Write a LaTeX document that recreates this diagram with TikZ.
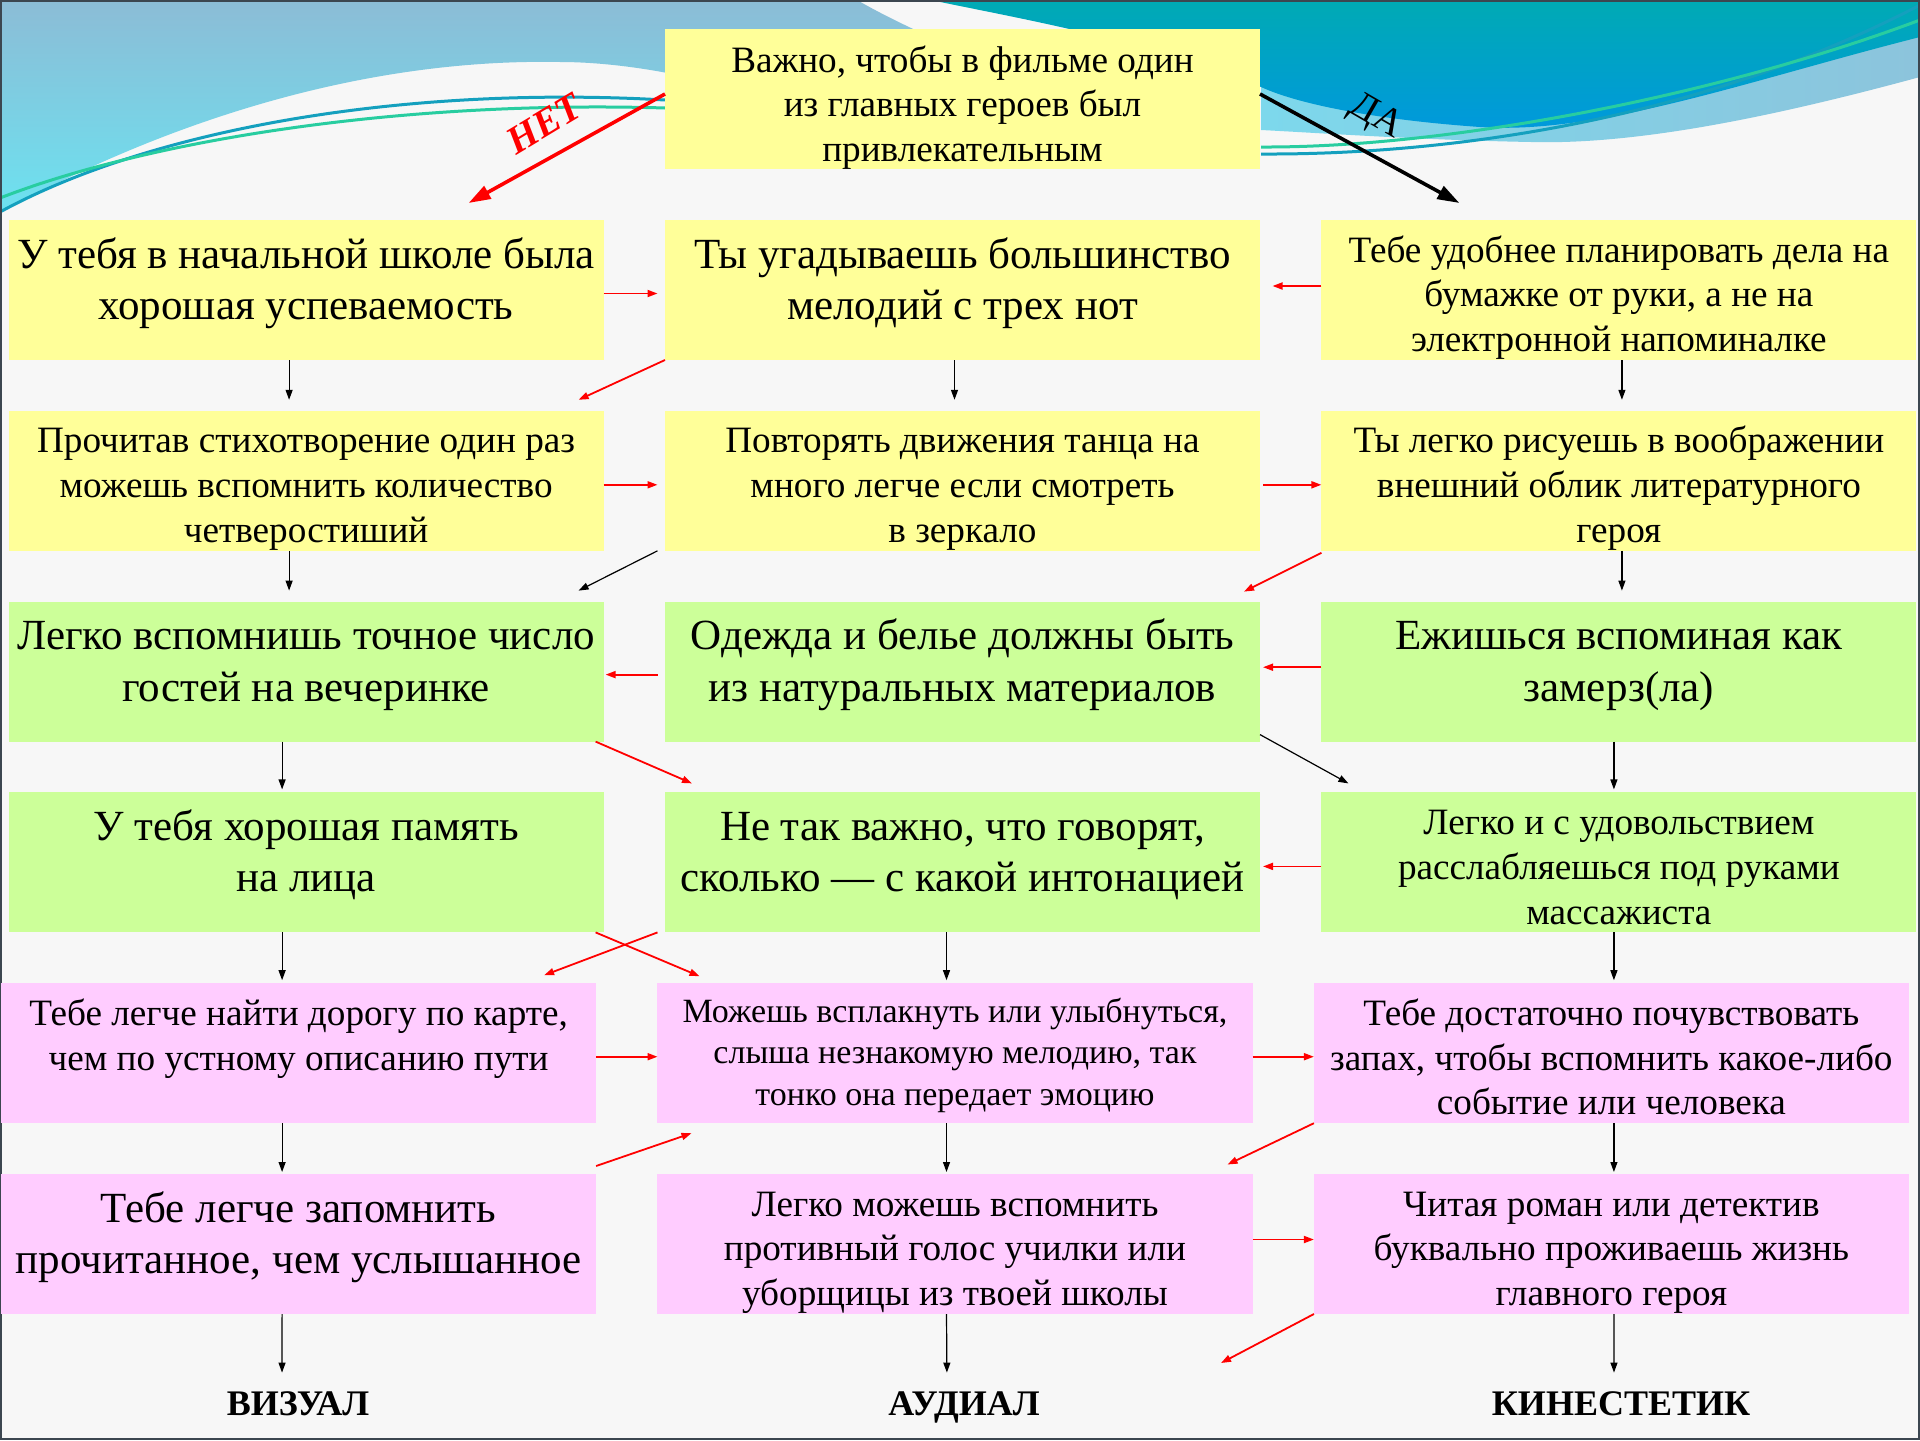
\documentclass[tikz,border=0pt]{standalone}
\usepackage{fontspec}
\setmainfont{Liberation Serif}
\usetikzlibrary{matrix,positioning,backgrounds,arrows.meta}

\definecolor{qyellow}{RGB}{255,255,153}
\definecolor{qgreen}{RGB}{204,255,153}
\definecolor{qpink}{RGB}{255,204,255}
\definecolor{skytop}{RGB}{140,188,214}
\definecolor{skylow}{RGB}{108,226,240}
\definecolor{waveteal}{RGB}{0,170,180}
\definecolor{waveblue}{RGB}{0,152,222}
\definecolor{bandleft}{RGB}{125,216,236}
\definecolor{bandright}{RGB}{140,196,220}
\definecolor{lineteal}{RGB}{20,160,190}
\definecolor{linegreen}{RGB}{40,205,160}
\definecolor{pagegray}{RGB}{247,247,247}
\definecolor{framegray}{RGB}{60,70,80}

\newcommand\bigsize{\fontsize{21.5}{25.7}\selectfont}
\newcommand\midsize{\fontsize{18.6}{22.4}\selectfont}
\newcommand\smallsize{\fontsize{17}{20.8}\selectfont}
\newcommand\txt[1]{\begin{tabular}[t]{@{}c@{}}#1\end{tabular}}

\begin{document}
\begin{tikzpicture}[x=0.5pt, y=-0.5pt, >={Triangle[length=5pt,width=3.5pt]},
box/.style={minimum width=297.5pt, minimum height=70pt, inner xsep=2pt, inner ysep=0pt, outer sep=0pt, anchor=center},
big/.style={font=\bigsize, text height=24pt, text depth=46pt},
mid/.style={font=\midsize, text height=21pt, text depth=49pt},
small/.style={font=\smallsize, text height=19.5pt, text depth=50.5pt},
link/.style={->, line width=0.6pt},
redlink/.style={->, red, line width=0.9pt},
answerno/.style={-{Triangle[length=11pt,width=7pt]}, red, line width=1.8pt},
answeryes/.style={-{Triangle[length=11pt,width=7pt]}, black, line width=1.8pt},
kind/.style={font=\fontsize{18}{22}\selectfont\bfseries, inner sep=1pt, text height=13pt, text depth=4pt}]

\useasboundingbox (0,0) rectangle (1920,1440);

\matrix (quiz) [matrix of nodes, anchor=north east, inner sep=0pt, outer sep=0pt,
  nodes={box, mid},
  row sep={95.4pt,between origins}, column sep={328.2pt,between origins},
  row 1/.style={nodes={fill=qyellow}}, row 2/.style={nodes={fill=qyellow}},
  row 3/.style={nodes={fill=qgreen}}, row 4/.style={nodes={fill=qgreen}},
  row 5/.style={nodes={fill=qpink, xshift=-3.75pt}},
  row 6/.style={nodes={fill=qpink, xshift=-3.75pt}}] at (1916.4,220) {
|[big]| \txt{У тебя в начальной школе была\\хорошая успеваемость} &
|[big]| \txt{Ты угадываешь большинство\\мелодий с трех нот} &
\txt{Тебе удобнее планировать дела на\\бумажке от руки, а не на\\электронной напоминалке} \\
\txt{Прочитав стихотворение один раз\\можешь вспомнить количество\\четверостиший} &
\txt{Повторять движения танца на\\много легче если смотреть\\в зеркало} &
\txt{Ты легко рисуешь в воображении\\внешний облик литературного\\героя} \\
|[big]| \txt{Легко вспомнишь точное число\\гостей на вечеринке} &
|[big]| \txt{Одежда и белье должны быть\\из натуральных материалов} &
|[big]| \txt{Ежишься вспоминая как\\замерз(ла)} \\
|[big]| \txt{У тебя хорошая память\\на лица} &
|[big]| \txt{Не так важно, что говорят,\\сколько — с какой интонацией} &
\txt{Легко и с удовольствием\\расслабляешься под руками\\массажиста} \\
\txt{Тебе легче найти дорогу по карте,\\чем по устному описанию пути} &
|[small]| \txt{Можешь всплакнуть или улыбнуться,\\слыша незнакомую мелодию, так\\тонко она передает эмоцию} &
\txt{Тебе достаточно почувствовать\\запах, чтобы вспомнить какое-либо\\событие или человека} \\
|[big]| \txt{Тебе легче запомнить\\прочитанное, чем услышанное} &
\txt{Легко можешь вспомнить\\противный голос училки или\\уборщицы из твоей школы} &
\txt{Читая роман или детектив\\буквально проживаешь жизнь\\главного героя} \\};

\node[box, mid, fill=qyellow, text height=21.5pt, text depth=48.5pt, above=25.5pt of quiz-1-2] (start) {\txt{Важно, чтобы в фильме один\\из главных героев был\\привлекательным}};

\node[kind] (visual) at (298,1406) {ВИЗУАЛ};
\node[kind] (audial) at (964,1406) {АУДИАЛ};
\node[kind] (kinest) at (1621,1406) {КИНЕСТЕТИК};
\coordinate (loose) at (1221,1363);

% first question
\draw[answerno] ([yshift=2.5pt]start.west) -- ([xshift=-67.5pt,yshift=8.5pt]quiz-1-1.north east)
    node[midway, xshift=-11.5pt, yshift=12.5pt, rotate=31, font=\fontsize{19.5}{20}\selectfont\bfseries\itshape] {НЕТ};
\draw[answeryes] ([yshift=2.5pt]start.east) -- ([xshift=69pt,yshift=8.5pt]quiz-1-3.north west)
    node[midway, xshift=8pt, yshift=15.5pt, rotate=-30, font=\fontsize{19.5}{20}\selectfont] {ДА};

% straight down
\draw[link, shorten >=5.5pt] ([xshift=-8.5pt]quiz-1-1.south) -- ([xshift=-8.5pt]quiz-2-1.north);
\draw[link, shorten >=5.5pt] ([xshift=-8.5pt]quiz-2-1.south) -- ([xshift=-8.5pt]quiz-3-1.north);
\draw[link, shorten >=1.5pt] ([xshift=-12pt]quiz-3-1.south) -- ([xshift=-12pt]quiz-4-1.north);
\draw[link, shorten >=1.5pt] ([xshift=-12pt]quiz-4-1.south) -- ([xshift=-8.25pt]quiz-5-1.north);
\draw[link, shorten >=1pt] ([xshift=-8.25pt]quiz-5-1.south) -- ([xshift=-8.25pt]quiz-6-1.north);
\draw[link, shorten >=7pt] ([xshift=-8.25pt]quiz-6-1.south) -- ([xshift=-8pt]visual.north);
\draw[link, shorten >=5.5pt] ([xshift=-4pt]quiz-1-2.south) -- ([xshift=-4pt]quiz-2-2.north);
\draw[link, shorten >=1.5pt] ([xshift=-8pt]quiz-4-2.south) -- ([xshift=-4.25pt]quiz-5-2.north);
\draw[link, shorten >=1pt] ([xshift=-4.25pt]quiz-5-2.south) -- ([xshift=-4.25pt]quiz-6-2.north);
\draw[link, shorten >=7pt] ([xshift=-4.25pt]quiz-6-2.south) -- ([xshift=-8.5pt]audial.north);
\draw[link, shorten >=5.5pt] ([xshift=1.5pt]quiz-1-3.south) -- ([xshift=1.5pt]quiz-2-3.north);
\draw[link, shorten >=5.5pt] ([xshift=1.5pt]quiz-2-3.south) -- ([xshift=1.5pt]quiz-3-3.north);
\draw[link, shorten >=1.5pt] ([xshift=-2.5pt]quiz-3-3.south) -- ([xshift=-2.5pt]quiz-4-3.north);
\draw[link, shorten >=1.5pt] ([xshift=-2.5pt]quiz-4-3.south) -- ([xshift=1.25pt]quiz-5-3.north);
\draw[link, shorten >=1pt] ([xshift=1.25pt]quiz-5-3.south) -- ([xshift=1.25pt]quiz-6-3.north);
\draw[link, shorten >=7pt] ([xshift=1.25pt]quiz-6-3.south) -- ([xshift=-3.5pt]kinest.north);

% sideways
\draw[redlink, shorten >=3.75pt] ([yshift=-1.75pt]quiz-1-1.east) -- ([yshift=-1.75pt]quiz-1-2.west);
\draw[redlink, shorten >=6.25pt] ([yshift=2pt]quiz-1-3.west) -- ([yshift=2pt]quiz-1-2.east);
\draw[redlink, shorten >=3.75pt] ([yshift=-2pt]quiz-2-1.east) -- ([yshift=-2pt]quiz-2-2.west);
\draw[redlink, shorten <=1.5pt] ([yshift=-2pt]quiz-2-2.east) -- ([yshift=-2pt]quiz-2-3.west);
\draw[redlink, shorten <=3.75pt, shorten >=1pt] ([yshift=-1.5pt]quiz-3-2.west) -- ([yshift=-1.5pt]quiz-3-1.east);
\draw[redlink, shorten >=1.5pt] ([yshift=2.2pt]quiz-3-3.west) -- ([yshift=2.2pt]quiz-3-2.east);
\draw[redlink, shorten >=1.5pt] ([yshift=-2pt]quiz-4-3.west) -- ([yshift=-2pt]quiz-4-2.east);
\draw[redlink] ([yshift=-1.75pt]quiz-5-1.east) -- ([yshift=-1.75pt]quiz-5-2.west);
\draw[redlink] ([yshift=-1.75pt]quiz-5-2.east) -- ([yshift=-1.75pt]quiz-5-3.west);
\draw[redlink] ([yshift=2.25pt]quiz-6-2.east) -- ([yshift=2.25pt]quiz-6-3.west);

% across
\draw[redlink] (quiz-1-2.south west) -- ([xshift=-12.5pt,yshift=5.5pt]quiz-2-1.north east);
\draw[link] ([xshift=-3.75pt]quiz-2-2.south west) -- ([xshift=-12.5pt,yshift=5.5pt]quiz-3-1.north east);
\draw[redlink] ([yshift=-1pt]quiz-2-3.south west) -- ([xshift=-8pt,yshift=5pt]quiz-3-2.north east);
\draw[redlink] ([xshift=-4pt]quiz-3-1.south east) -- ([xshift=13.5pt,yshift=4.5pt]quiz-4-2.north west);
\draw[link] ([yshift=3.5pt]quiz-3-2.south east) -- ([xshift=13.5pt,yshift=4.5pt]quiz-4-3.north west);
\draw[redlink] ([xshift=-4pt]quiz-4-1.south east) -- ([xshift=21pt,yshift=3.5pt]quiz-5-2.north west);
\draw[redlink] ([xshift=-3.75pt]quiz-4-2.south west) -- ([xshift=-26pt,yshift=4pt]quiz-5-1.north east);
\draw[redlink] ([yshift=4pt]quiz-6-1.north east) -- ([xshift=17pt,yshift=-5pt]quiz-5-2.south west);
\draw[redlink] (quiz-5-3.south west) -- ([xshift=-12.5pt,yshift=4.75pt]quiz-6-2.north east);
\draw[redlink] (quiz-6-3.south west) -- (loose);

\begin{scope}[on background layer]
\fill[pagegray] (0,0) rectangle (1920,1440);
\shade[top color=skytop, bottom color=skylow] (0,0) -- (857,0) .. controls (900,25) and (950,45) .. (1000,70)
    -- (700,80) .. controls (650,68) and (600,62) .. (560,62) .. controls (350,58) and (150,130) .. (0,213) -- cycle;
\shade[left color=bandleft, right color=bandright] (1261,80) -- (1920,30) -- (1920,77)
    .. controls (1780,115) and (1640,145) .. (1531,142) .. controls (1420,140) and (1320,133) .. (1261,130) -- cycle;
\shade[top color=waveteal, bottom color=waveblue] (931,0) -- (1920,0) -- (1920,37)
    .. controls (1750,80) and (1600,135) .. (1480,127) .. controls (1380,120) and (1300,105) .. (1261,87)
    .. controls (1150,40) and (1000,15) .. (931,0) -- cycle;
\draw[lineteal, line width=1.5pt] (0,212) .. controls (150,130) and (400,85) .. (665,100);
\draw[linegreen, line width=1.5pt] (0,198) .. controls (150,140) and (400,100) .. (665,108);
\draw[lineteal, line width=1.5pt] (1261,154) .. controls (1450,155) and (1700,120) .. (1920,5);
\draw[linegreen, line width=1.5pt] (1261,147) .. controls (1450,148) and (1720,95) .. (1920,20);
\draw[framegray, line width=1pt] (1,1) rectangle (1919,1439);
\end{scope}
\end{tikzpicture}
\end{document}
